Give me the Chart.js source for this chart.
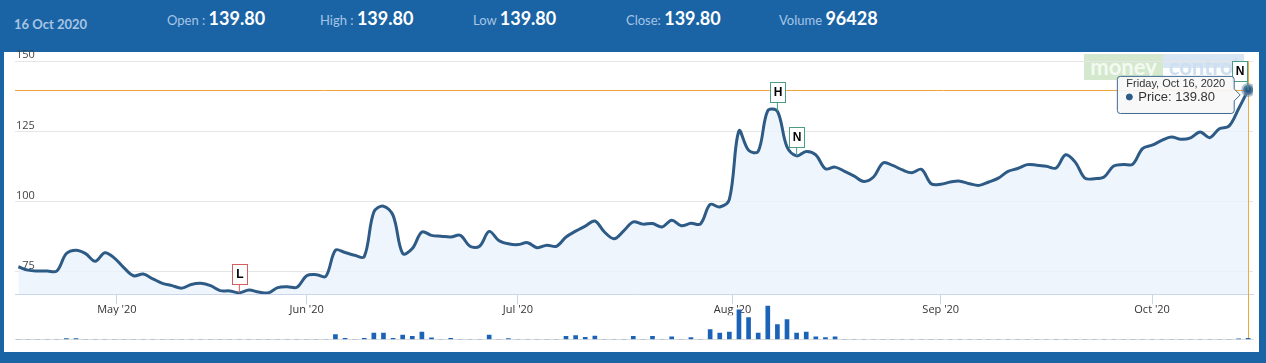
<!DOCTYPE html>
<html>
<head>
<meta charset="utf-8">
<script src="https://cdn.jsdelivr.net/npm/chart.js@4.4.0/dist/chart.umd.min.js"></script>
<style>
  html, body { margin:0; padding:0; width:1266px; height:363px; overflow:hidden; background:#1a64a5; }
  #panel { position:absolute; left:4px; top:52px; width:1255px; height:300px; background:#fff; }
  .hd { position:absolute; white-space:pre; font-family:Lato, 'Open Sans', sans-serif; line-height:1.2; }
  .hd .lab { font-size:13px; color:#a6c4e6; position:relative; top:0; }
  .hd .val { font-size:18px; font-weight:700; color:#fff; }
  #hdate { left:14px; top:17px; font-size:13px; font-weight:700; color:#a9c5e4; }
  #wm { position:absolute; left:1084px; top:54px; height:26px; font-family:Lato, sans-serif; font-weight:700; font-size:22px; line-height:26px; white-space:nowrap; }
  #wm .m { display:inline-block; width:79px; text-align:center; background:#d3e8cd; color:#f4faf2; }
  #wm .c { display:inline-block; width:81px; text-align:center; background:linear-gradient(#d8e6f3 0, #d8e6f3 14px, rgba(255,255,255,0) 14px); color:#cddff0; }
  canvas { position:absolute; left:0; top:0; }
</style>
</head>
<body>
<div id="panel"></div>
<div id="hdate" class="hd"></div>
<div id="hitems"></div>
<div id="wm"><span class="m">money</span><span class="c">control</span></div>
<canvas id="price" width="1266" height="363"></canvas>
<canvas id="vol" width="1266" height="363"></canvas>
<script>
// ---------------- DATA ----------------
const monthDays = [
  ['2020-04', [16,17,20,21,22,23,24,27,28,29,30]],
  ['2020-05', [4,5,6,7,8,11,12,13,14,15,18,19,20,21,22,26,27,28,29]],
  ['2020-06', [1,2,3,4,5,8,9,10,11,12,15,16,17,18,19,22,23,24,25,26,29,30]],
  ['2020-07', [1,2,3,6,7,8,9,10,13,14,15,16,17,20,21,22,23,24,27,28,29,30,31]],
  ['2020-08', [3,4,5,6,7,10,11,12,13,14,17,18,19,20,21,24,25,26,27,28,31]],
  ['2020-09', [1,2,3,4,7,8,9,10,11,14,15,16,17,18,21,22,23,24,25,28,29,30]],
  ['2020-10', [1,5,6,7,8,9,12,13,14,15,16]]
];

const pricesApr = [76.8, 75.6, 75.3, 75.3, 75.3, 81.5, 82.7, 81.5, 78.8, 81.8, 79.9];
const pricesMay = [76.4, 73.6, 74.2, 72.5, 70.9, 70.1, 69.2, 70.5, 70.9, 70.1, 68.3, 68.2, 67.5, 68.5, 67.8, 67.5, 69.4, 69.7, 69.5];
const pricesJun = [73.6, 74.0, 73.4, 82.7, 81.9, 80.9, 80.4, 96.3, 98.4, 95.1, 81.5, 83.3, 89.2, 88.0, 87.7, 87.4, 88.0, 84.1, 84.1, 89.4, 86.2, 85.0];
const pricesJul = [84.7, 85.4, 83.6, 84.5, 84.1, 87.4, 89.5, 91.3, 93.1, 89.2, 86.8, 89.6, 92.8, 92.0, 92.2, 91.0, 93.4, 91.4, 92.3, 92.1, 99.0, 98.1, 100.8];
const pricesAug = [125.2, 118.3, 117.9, 132.4, 132.2, 119.5, 116.3, 117.9, 116.7, 111.7, 112.3, 110.8, 109.1, 107.2, 108.8, 113.8, 112.9, 111.3, 110.3, 111.5, 106.4];
const pricesSep = [106.2, 107.0, 107.3, 106.4, 105.8, 107.0, 108.4, 110.8, 111.8, 113.2, 113.0, 112.6, 112.0, 116.7, 114.1, 108.4, 108.2, 108.8, 112.7, 113.2, 113.4, 118.9];
const pricesOct = [120.1, 121.8, 123.0, 122.2, 122.7, 124.8, 122.8, 126.0, 126.9, 133.1, 139.8];

const volumesApr = [0,0,0,0,0,80000,80000,0,0,0,0];
const volumesMay = [0,0,0,0,0,0,0,0,0,0,0,0,0,0,0,0,0,0,0];
const volumesJun = [0,0,0,470000,100000,0,100000,640000,640000,100000,440000,300000,740000,160000,0,100000,0,0,0,440000,0,80000];
const volumesJul = [0,0,0,0,0,300000,370000,200000,340000,0,0,0,300000,0,300000,0,240000,0,170000,0,980000,640000,740000];
const volumesAug = [3010000,2200000,640000,3390000,1490000,2000000,640000,740000,240000,170000,240000,0,0,0,0,0,0,0,0,0,0];
const volumesSep = [0,0,0,0,0,0,0,0,0,0,0,0,0,0,0,0,0,0,0,0,0,0];
const volumesOct = [0,0,0,0,0,0,0,0,0,60000,96428];

const yTicks = [75, 100, 125, 150];
const tickMonths = ['2020-05','2020-06','2020-07','2020-08','2020-09','2020-10'];
const flags = [
  { date:'2020-05-20', text:'L', color:'#d0605c' },
  { date:'2020-08-07', text:'H', color:'#4b9c82' },
  { date:'2020-08-11', text:'N', color:'#4b9c82' },
  { date:'2020-10-16', text:'N', color:'#4b9c82' }
];
const headerLabels = ['Open : ', 'High : ', 'Low ', 'Close: ', 'Volume '];
const monthShort = ['Jan','Feb','Mar','Apr','May','Jun','Jul','Aug','Sep','Oct','Nov','Dec'];
const weekdays = ['Sunday','Monday','Tuesday','Wednesday','Thursday','Friday','Saturday'];

// ---------------- BUILD ----------------
const dates = [];
monthDays.forEach(([ym, days]) => days.forEach(d => dates.push(ym + '-' + String(d).padStart(2,'0'))));
const prices = [].concat(pricesApr, pricesMay, pricesJun, pricesJul, pricesAug, pricesSep, pricesOct);
const volumes = [].concat(volumesApr, volumesMay, volumesJun, volumesJul, volumesAug, volumesSep, volumesOct);
const last = prices.length - 1;

function toDate(s){ const [y,m,d] = s.split('-').map(Number); return new Date(y, m-1, d); }
const dateObjs = dates.map(toDate);

// ordinal positions of month starts (between trading days)
const monthTicks = tickMonths.map(ym => {
  const start = toDate(ym + '-01');
  let j = dateObjs.findIndex(d => d >= start);
  let pos = j;
  if (dateObjs[j].getTime() !== start.getTime() && j > 0) {
    pos = (j-1) + (start - dateObjs[j-1]) / (dateObjs[j] - dateObjs[j-1]);
  }
  return { pos, label: monthShort[start.getMonth()] + " '" + String(start.getFullYear()).slice(2) };
});

// header
const ld = dateObjs[last];
document.getElementById('hdate').textContent = ld.getDate() + ' ' + monthShort[ld.getMonth()] + ' ' + ld.getFullYear();
const headerValues = [prices[last].toFixed(2), prices[last].toFixed(2), prices[last].toFixed(2), prices[last].toFixed(2), String(volumes[last])];
const headerX = [167, 320, 473, 626, 779];
const hItems = document.getElementById('hitems');
headerLabels.forEach((l, k) => {
  const d = document.createElement('div');
  d.className = 'hd';
  d.style.left = headerX[k] + 'px';
  d.style.top = '8px';
  d.innerHTML = '<span class="lab">' + l + '</span><span class="val">' + headerValues[k] + '</span>';
  hItems.appendChild(d);
});

const FONT = "'Open Sans', 'DejaVu Sans', sans-serif";
const LINE = '#2d5b86';
const VOL_BOTTOM = 339.3;
const X_MIN = -0.35, X_MAX = 128.5;

Chart.Tooltip.positioners.lastPoint = function(elements) {
  if (!elements.length) return false;
  const el = elements[0].element;
  return { x: el.x, y: el.y + 5 };
};

const crosshair = {
  id: 'crosshair',
  beforeDatasetsDraw(chart) {
    const { ctx, chartArea: a, scales: { x, y } } = chart;
    const px = Math.round(x.getPixelForValue(last)) + 0.5;
    const py = Math.round(y.getPixelForValue(prices[last])) + 0.5;
    ctx.save();
    ctx.strokeStyle = '#f0a63c';
    ctx.lineWidth = 1;
    ctx.beginPath();
    ctx.moveTo(a.left, py); ctx.lineTo(a.right, py);
    ctx.moveTo(px, a.top); ctx.lineTo(px, VOL_BOTTOM);
    ctx.stroke();
    ctx.restore();
  }
};

const flagPlugin = {
  id: 'flags',
  afterDatasetsDraw(chart) {
    const { ctx, chartArea: a, scales: { x, y } } = chart;
    ctx.save();
    flags.forEach(f => {
      const i = dates.indexOf(f.date);
      if (i < 0) return;
      const px = x.getPixelForValue(i), py = y.getPixelForValue(prices[i]);
      const w = 15, h = 20, gap = 9;
      let cx = px;
      let shifted = false;
      if (cx + w/2 > a.right) { cx = px - w/2 - 1; shifted = true; }
      const bottom = py - gap, top = bottom - h;
      ctx.strokeStyle = f.color;
      ctx.lineWidth = 1;
      ctx.beginPath();
      ctx.moveTo(shifted ? cx + w/2 : cx, bottom);
      ctx.lineTo(px, py);
      ctx.stroke();
      const bx = Math.round(cx - w/2) + 0.5, by = Math.round(top) + 0.5;
      ctx.fillStyle = '#fff';
      ctx.fillRect(bx, by, w, h);
      ctx.strokeRect(bx, by, w, h);
      ctx.fillStyle = '#000';
      ctx.font = "bold 12px 'Liberation Sans', Arial, sans-serif";
      ctx.textAlign = 'center';
      ctx.textBaseline = 'middle';
      ctx.fillText(f.text, bx + w/2, by + h/2 + 0.5);
    });
    ctx.restore();
  }
};

const priceChart = new Chart(document.getElementById('price'), {
  type: 'line',
  data: {
    datasets: [{
      data: prices.map((p, i) => ({ x: i, y: p })),
      borderColor: LINE,
      borderWidth: 3,
      tension: 0.35,
      fill: 'start',
      backgroundColor: 'rgba(234,243,252,0.8)',
      pointRadius: ctx => ctx.dataIndex === last ? 5 : 0,
      pointHoverRadius: 5,
      pointBackgroundColor: LINE,
      pointBorderColor: 'rgba(110,140,170,0.55)',
      pointBorderWidth: 4,
      pointHoverBorderWidth: 4
    }]
  },
  options: {
    responsive: false,
    animation: false,
    events: [],
    layout: { padding: { left: 13, right: 13, top: 61.3, bottom: 47.7 } },
    scales: {
      x: {
        type: 'linear', min: X_MIN, max: X_MAX, offset: false,
        afterBuildTicks(ax) { ax.ticks = monthTicks.map(t => ({ value: t.pos })); },
        afterFit(ax) { ax.height = 21; },
        ticks: {
          autoSkip: false, maxRotation: 0, padding: 0, color: '#333',
          font: { family: FONT, size: 11, lineHeight: 1 },
          callback: v => { const t = monthTicks.find(m => Math.abs(m.pos - v) < 1e-6); return t ? t.label : ''; }
        },
        grid: { drawOnChartArea: false, drawTicks: true, tickLength: 10, tickColor: '#ccd6eb' },
        border: { color: '#ccd6eb' }
      },
      y: {
        min: 67, max: 150,
        afterBuildTicks(ax) { ax.ticks = yTicks.map(v => ({ value: v })); },
        ticks: {
          mirror: true, crossAlign: 'far', padding: 1, labelOffset: -6, color: '#444',
          font: { family: FONT, size: 11 }
        },
        grid: { color: '#e6e6e6', drawTicks: false },
        border: { display: false }
      }
    },
    plugins: {
      legend: { display: false },
      tooltip: {
        enabled: true,
        position: 'lastPoint',
        xAlign: 'right', yAlign: 'center',
        backgroundColor: 'rgba(247,247,247,0.92)',
        borderColor: '#3f6890', borderWidth: 1, cornerRadius: 3,
        caretSize: 6, caretPadding: 8,
        padding: { top: 2, bottom: 10, left: 9, right: 9 },
        titleColor: '#333', titleMarginBottom: 0,
        titleFont: { family: "'Liberation Sans', Arial, sans-serif", size: 11, weight: 'normal', lineHeight: 1.1 },
        bodyColor: '#333',
        bodyFont: { family: "'Liberation Sans', Arial, sans-serif", size: 13, lineHeight: 1 },
        displayColors: true, usePointStyle: true, boxWidth: 6, boxHeight: 6, boxPadding: 4,
        callbacks: {
          title: items => {
            const d = dateObjs[items[0].dataIndex];
            return weekdays[d.getDay()] + ', ' + monthShort[d.getMonth()] + ' ' + d.getDate() + ', ' + d.getFullYear();
          },
          label: item => 'Price: ' + item.parsed.y.toFixed(2),
          labelPointStyle: () => ({ pointStyle: 'circle', rotation: 0 }),
          labelColor: () => ({ borderColor: LINE, backgroundColor: LINE, borderWidth: 0 })
        }
      }
    }
  },
  plugins: [crosshair, flagPlugin]
});

const meta = priceChart.getDatasetMeta(0);
const lastEl = meta.data[last];
priceChart.tooltip.setActiveElements([{ datasetIndex: 0, index: last }], { x: lastEl.x, y: lastEl.y });
priceChart.update();

new Chart(document.getElementById('vol'), {
  type: 'bar',
  data: {
    datasets: [{
      data: volumes.map((v, i) => ({ x: i, y: v })),
      backgroundColor: '#1b63b7',
      barThickness: 4,
      borderWidth: 0
    }]
  },
  options: {
    responsive: false,
    animation: false,
    events: [],
    layout: { padding: { left: 15, right: 13, top: 300, bottom: 363 - VOL_BOTTOM } },
    scales: {
      x: {
        type: 'linear', min: X_MIN, max: X_MAX, offset: false,
        ticks: { display: false },
        grid: { display: false, drawTicks: false, tickLength: 0, offset: false },
        border: { display: true, color: '#dcdcdc' }
      },
      y: { display: false, min: 0, max: 4000000 }
    },
    plugins: { legend: { display: false }, tooltip: { enabled: false } }
  }
});
</script>
</body>
</html>
